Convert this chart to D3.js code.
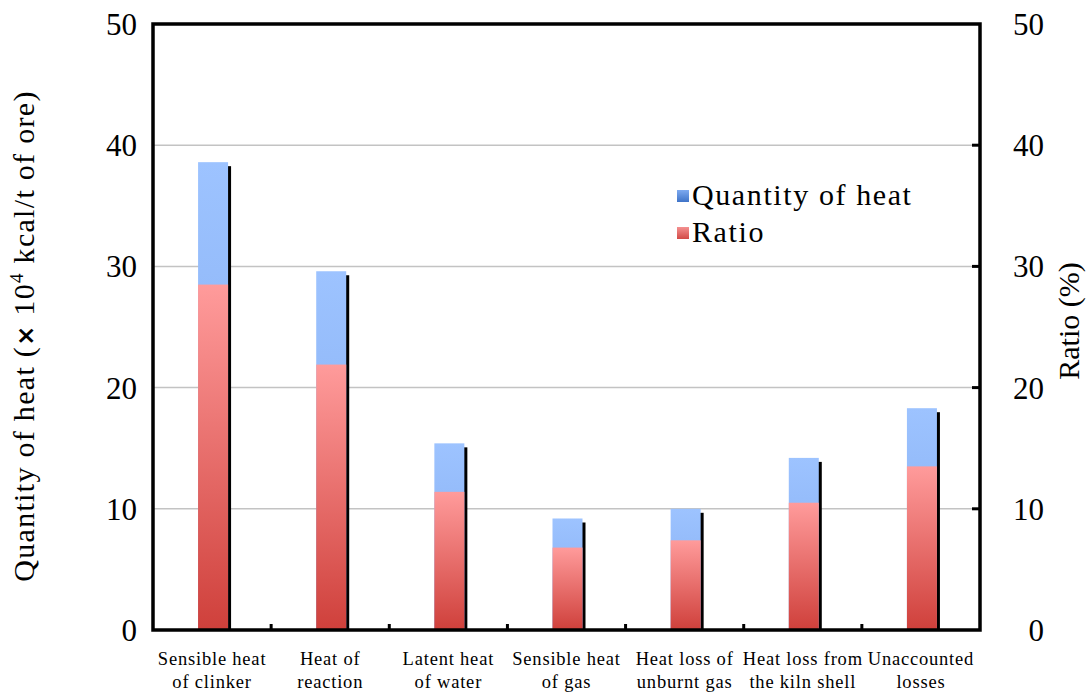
<!DOCTYPE html>
<html>
<head>
<meta charset="utf-8">
<script src="https://cdn.jsdelivr.net/npm/d3@7"></script>
<style>
  html, body { margin: 0; padding: 0; background: #fff; }
  svg { display: block; }
  text { font-family: "Liberation Serif", "DejaVu Serif", serif; fill: #000; }
</style>
</head>
<body>
<svg id="chart" width="1087" height="693"></svg>
<script>
// Heat balance of the kiln: quantity of heat (×10^4 kcal/t of ore) and its share (%)
const categories = [
  ["Sensible heat", "of clinker"],
  ["Heat of", "reaction"],
  ["Latent heat", "of water"],
  ["Sensible heat", "of gas"],
  ["Heat loss of", "unburnt gas"],
  ["Heat loss from", "the kiln shell"],
  ["Unaccounted", "losses"]
];
const quantityOfHeat = [38.6, 29.6, 15.4, 9.2, 10.0, 14.2, 18.3];
const ratio = [28.5, 21.9, 11.4, 6.8, 7.4, 10.5, 13.5];
const yTicks = [0, 10, 20, 30, 40, 50];
const legendLabels = ["Quantity of heat", "Ratio"];

const svg = d3.select("#chart");
const m = { left: 153, right: 980, top: 24, bottom: 630 };

const x = d3.scaleBand()
  .domain(d3.range(categories.length))
  .range([m.left, m.right])
  .paddingInner(0).paddingOuter(0);
const yL = d3.scaleLinear().domain([0, 50]).range([m.bottom, m.top]);
const yR = d3.scaleLinear().domain([0, 50]).range([m.bottom, m.top]);

const defs = svg.append("defs");
function vgrad(id, top, bottom) {
  const g = defs.append("linearGradient").attr("id", id)
    .attr("x1", 0).attr("y1", 0).attr("x2", 0).attr("y2", 1);
  g.append("stop").attr("offset", "0%").attr("stop-color", top);
  g.append("stop").attr("offset", "100%").attr("stop-color", bottom);
}
vgrad("gBlue", "#9dc3ff", "#7fa9ee");
vgrad("gRed", "#ff9b9b", "#cf403b");
vgrad("gBlueKey", "#7eaaf0", "#3f74c8");
vgrad("gRedKey", "#f49090", "#d24a46");

// gridlines
svg.append("g").selectAll("line")
  .data(yTicks.filter(d => d > 0 && d < 50))
  .join("line")
  .attr("x1", m.left).attr("x2", m.right)
  .attr("y1", d => yL(d)).attr("y2", d => yL(d))
  .attr("stroke", "#c3c3c3").attr("stroke-width", 1.5);

const barW = 30;
const bx = i => x(i) + x.bandwidth() / 2 - barW / 2 + 1;

// drop shadow behind each bar
svg.append("g").selectAll("rect")
  .data(quantityOfHeat)
  .join("rect")
  .attr("x", (d, i) => bx(i) + 3)
  .attr("y", d => yL(d) + 4)
  .attr("width", barW)
  .attr("height", d => yL(0) - yL(d) - 4)
  .attr("fill", "#000");

// quantity of heat bars
svg.append("g").selectAll("rect")
  .data(quantityOfHeat)
  .join("rect")
  .attr("x", (d, i) => bx(i))
  .attr("y", d => yL(d))
  .attr("width", barW)
  .attr("height", d => yL(0) - yL(d))
  .attr("fill", "url(#gBlue)");

// ratio bars, in front
svg.append("g").selectAll("rect")
  .data(ratio)
  .join("rect")
  .attr("x", (d, i) => bx(i))
  .attr("y", d => yR(d))
  .attr("width", barW)
  .attr("height", d => yR(0) - yR(d))
  .attr("fill", "url(#gRed)");

// frame
svg.append("rect")
  .attr("x", m.left).attr("y", m.top)
  .attr("width", m.right - m.left).attr("height", m.bottom - m.top)
  .attr("fill", "none").attr("stroke", "#000").attr("stroke-width", 3.5);

// category boundary ticks on x axis
svg.append("g").selectAll("line")
  .data(d3.range(1, categories.length))
  .join("line")
  .attr("x1", d => x(d)).attr("x2", d => x(d))
  .attr("y1", m.bottom).attr("y2", m.bottom - 6)
  .attr("stroke", "#000").attr("stroke-width", 3);

// inward ticks on the right axis
svg.append("g").selectAll("line")
  .data(yTicks.filter(d => d > 0 && d < 50))
  .join("line")
  .attr("x1", m.right).attr("x2", m.right - 8)
  .attr("y1", d => yR(d)).attr("y2", d => yR(d))
  .attr("stroke", "#000").attr("stroke-width", 3);

// left tick labels
svg.append("g").selectAll("text")
  .data(yTicks).join("text")
  .attr("x", 137).attr("y", d => yL(d) + 11)
  .attr("text-anchor", "end")
  .attr("font-size", 31)
  .text(d => d);

// right tick labels
svg.append("g").selectAll("text")
  .data(yTicks).join("text")
  .attr("x", 1044).attr("y", d => yR(d) + 11)
  .attr("text-anchor", "end")
  .attr("font-size", 31)
  .text(d => d);

// category labels
const cat = svg.append("g").selectAll("text")
  .data(categories).join("text")
  .attr("text-anchor", "middle")
  .attr("font-size", 18.5)
  .attr("letter-spacing", 0.8);
cat.append("tspan")
  .attr("x", (d, i) => x(i) + x.bandwidth() / 2)
  .attr("y", 665)
  .text(d => d[0]);
cat.append("tspan")
  .attr("x", (d, i) => x(i) + x.bandwidth() / 2)
  .attr("y", 688)
  .text(d => d[1]);

// left axis title
const lt = svg.append("text")
  .attr("transform", "translate(34,336) rotate(-90)")
  .attr("text-anchor", "middle")
  .attr("font-size", 30)
  .attr("letter-spacing", 1.3);
lt.append("tspan").text("Quantity of heat (");
lt.append("tspan").attr("font-family", "DejaVu Sans").attr("font-weight", "bold").attr("font-size", 24).text("×");
lt.append("tspan").text(" 10");
lt.append("tspan").attr("font-size", 19).attr("dy", -11).text("4");
lt.append("tspan").attr("dy", 11).text(" kcal/t of ore)");

// right axis title
svg.append("text")
  .attr("transform", "translate(1079,321) rotate(-90)")
  .attr("text-anchor", "middle")
  .attr("font-size", 30)
  .text("Ratio (%)");

// legend
const legend = svg.append("g");
const keyFills = ["url(#gBlueKey)", "url(#gRedKey)"];
legendLabels.forEach((lab, i) => {
  const yb = 205 + i * 37;
  legend.append("rect")
    .attr("x", 677).attr("y", yb - 15)
    .attr("width", 12).attr("height", 12)
    .attr("fill", keyFills[i]);
  legend.append("text")
    .attr("x", 692).attr("y", yb)
    .attr("font-size", 30)
    .attr("letter-spacing", 1.6)
    .text(lab);
});
</script>
</body>
</html>
